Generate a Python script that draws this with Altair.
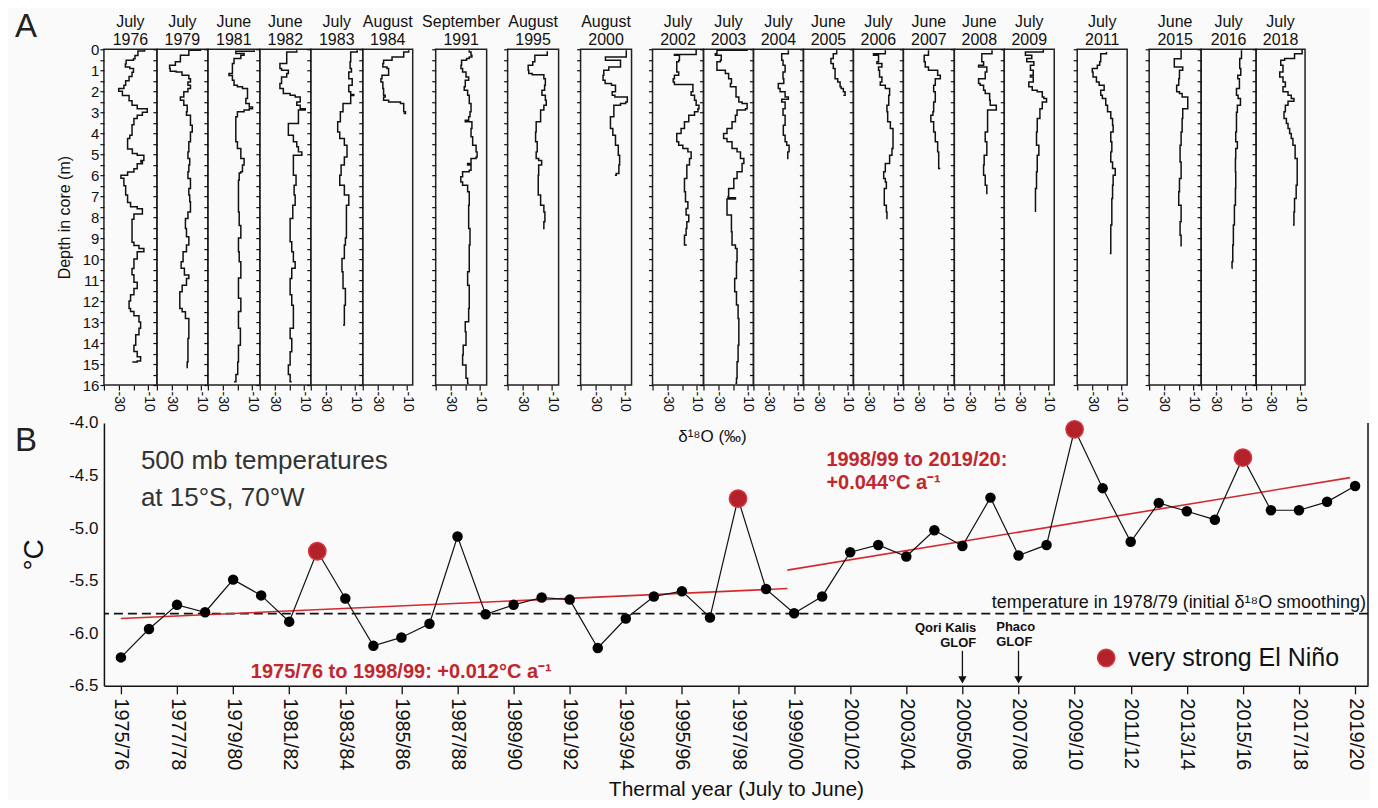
import altair as alt
import pandas as pd

FONT = "Liberation Sans"

# ---------------- Panel A : ice-core d18O profiles ----------------
core_titles = [["July", "1976"], ["July", "1979"], ["June", "1981"], ["June", "1982"],
               ["July", "1983"], ["August", "1984"], ["September", "1991"], ["August", "1995"],
               ["August", "2000"], ["July", "2002"], ["July", "2003"], ["July", "2004"],
               ["June", "2005"], ["July", "2006"], ["June", "2007"], ["June", "2008"],
               ["July", "2009"], ["July", "2011"], ["June", "2015"], ["July", "2016"],
               ["July", "2018"]]

depth_ticks = [i * 0.5 for i in range(33)]
d18o_ticks = [-40, -30, -20, -10]

core_1976 = [(0.0, -12.5), (0.08, -17.0), (0.3, -19.0), (0.45, -20.0), (0.52, -25.0), (0.7, -25.5),
             (0.85, -22.5), (0.92, -20.0), (1.1, -21.0), (1.3, -23.0), (1.5, -25.3), (1.72, -26.5),
             (1.87, -30.0), (2.0, -27.5), (2.2, -23.0), (2.45, -21.0), (2.67, -17.5), (2.83, -10.7),
             (3.0, -14.0), (3.15, -17.5), (3.3, -19.7), (3.6, -21.0), (4.1, -22.5), (4.25, -24.0),
             (4.6, -24.0), (4.75, -20.8), (4.97, -17.5), (5.05, -13.0), (5.3, -15.0), (5.37, -14.0),
             (5.45, -17.5), (5.7, -19.7), (5.85, -24.0), (6.0, -28.5), (6.15, -26.5), (6.5, -25.3),
             (6.95, -24.0), (7.3, -22.0), (7.5, -17.5), (7.6, -14.0), (7.85, -19.7), (8.1, -21.0),
             (8.7, -21.0), (9.2, -19.7), (9.35, -16.3), (9.5, -13.0), (9.65, -17.5), (10.0, -19.7),
             (10.45, -21.0), (10.75, -19.7), (11.1, -17.5), (11.4, -19.7), (11.7, -22.0), (12.0, -23.0),
             (12.35, -22.0), (12.5, -19.7), (12.7, -16.3), (13.0, -15.2), (13.3, -16.3), (13.6, -18.5),
             (14.1, -19.7), (14.4, -17.5), (14.65, -15.2), (14.85, -17.5), (14.9, -20.8)]
core_1979 = [(0.0, -10.5), (0.05, -18.4), (0.29, -24.1), (0.6, -27.5), (0.76, -31.4), (0.92, -31.0),
             (1.05, -27.0), (1.08, -23.0), (1.24, -18.4), (1.4, -17.3), (1.56, -19.0), (1.71, -17.3),
             (1.87, -19.0), (2.03, -21.8), (2.27, -24.1), (2.43, -21.8), (2.67, -19.5), (2.98, -20.0),
             (3.14, -17.3), (3.62, -16.1), (3.94, -17.3), (4.41, -18.4), (4.89, -19.0), (5.21, -17.8),
             (5.52, -18.4), (5.84, -19.0), (6.16, -17.3), (6.63, -18.4), (6.95, -17.8), (7.27, -17.3),
             (7.75, -19.0), (8.06, -20.7), (8.54, -20.0), (8.94, -18.4), (9.33, -20.0), (9.65, -22.3),
             (10.13, -23.6), (10.44, -21.4), (10.76, -18.4), (10.92, -20.0), (11.24, -22.9), (11.56, -24.5),
             (12.03, -24.5), (12.35, -22.9), (12.51, -20.7), (12.83, -18.4), (13.3, -18.4), (13.78, -19.0),
             (14.25, -19.0), (14.9, -19.5), (15.2, -19.5)]
core_1981 = [(0.05, -8.6), (0.1, -21.1), (0.2, -15.5), (0.29, -17.7), (0.44, -22.3), (0.68, -23.4),
             (1.0, -23.4), (1.16, -25.7), (1.25, -23.4), (1.48, -22.3), (1.71, -20.0), (1.79, -16.6),
             (1.87, -13.2), (2.19, -13.2), (2.35, -14.3), (2.59, -12.0), (2.75, -9.8), (2.83, -12.0),
             (2.9, -15.5), (2.98, -20.0), (3.22, -21.1), (3.94, -21.1), (4.41, -20.0), (4.73, -17.7),
             (5.21, -15.5), (5.52, -16.6), (5.84, -17.7), (5.9, -18.8), (6.24, -19.3), (7.0, -19.3),
             (7.75, -18.8), (8.4, -17.7), (9.0, -19.3), (9.65, -18.8), (10.13, -17.7), (10.9, -19.3),
             (11.87, -17.7), (12.5, -19.3), (13.3, -18.0), (14.1, -19.3), (14.9, -19.8), (15.5, -21.0),
             (15.85, -22.3)]
core_1982 = [(0.05, -15.0), (0.13, -21.8), (0.44, -21.8), (0.68, -26.4), (0.92, -25.3), (1.0, -20.7),
             (1.16, -21.8), (1.32, -25.3), (1.63, -26.4), (1.87, -24.1), (2.11, -19.5), (2.19, -16.1),
             (2.27, -12.7), (2.51, -15.0), (2.67, -12.7), (2.83, -9.3), (2.9, -13.9), (3.46, -13.9),
             (3.54, -20.7), (3.94, -20.7), (4.1, -17.3), (4.41, -15.0), (4.65, -13.9), (4.89, -11.6),
             (5.05, -17.3), (5.52, -17.3), (6.0, -15.5), (6.48, -16.8), (6.95, -16.1), (7.43, -17.7),
             (8.06, -19.5), (8.7, -19.5), (9.17, -18.4), (9.65, -17.3), (10.13, -16.1), (10.44, -18.4),
             (10.92, -19.5), (11.7, -18.4), (12.2, -17.3), (12.5, -17.3), (13.3, -19.5), (13.78, -18.4),
             (14.41, -19.5), (15.05, -20.7), (15.5, -19.5), (15.85, -18.4)]
core_1983 = [(0.05, -8.6), (0.13, -13.0), (0.6, -13.4), (0.92, -12.5), (1.08, -14.3), (1.4, -12.0),
             (1.71, -14.3), (2.03, -13.0), (2.16, -10.9), (2.2, -13.0), (2.59, -18.2), (2.98, -20.0),
             (3.46, -21.8), (3.94, -20.4), (4.25, -17.3), (4.57, -15.5), (4.89, -15.5), (5.13, -17.3),
             (5.52, -19.5), (6.0, -20.4), (6.48, -17.3), (6.95, -14.3), (7.43, -15.9), (8.22, -15.9),
             (9.0, -16.6), (9.33, -17.3), (9.97, -18.9), (10.6, -18.2), (11.4, -16.6), (12.2, -17.3),
             (13.14, -18.2)]
core_1984 = [(0.05, -8.9), (0.13, -12.3), (0.37, -20.2), (0.52, -25.9), (0.68, -26.4), (0.84, -23.6),
             (0.92, -22.5), (1.24, -27.0), (1.4, -27.7), (1.56, -26.4), (1.87, -25.9), (2.19, -24.8),
             (2.27, -25.9), (2.43, -22.5), (2.51, -14.5), (2.59, -12.3), (2.83, -12.3), (2.98, -11.1),
             (3.06, -12.3)]
core_1991 = [(0.05, -17.3), (0.13, -16.1), (0.29, -15.5), (0.37, -17.3), (0.44, -19.1), (0.52, -22.5),
             (0.76, -22.9), (0.92, -21.8), (1.08, -19.5), (1.32, -17.7), (1.48, -20.0), (1.79, -20.7),
             (1.95, -18.4), (2.19, -17.3), (2.59, -16.1), (2.98, -16.8), (3.22, -17.7), (3.38, -20.0),
             (3.46, -15.5), (3.78, -16.1), (4.17, -15.0), (4.57, -12.7), (4.89, -12.0), (5.13, -12.7),
             (5.21, -16.1), (5.44, -18.4), (5.52, -16.1), (5.76, -17.3), (5.84, -21.8), (6.08, -23.0),
             (6.32, -21.8), (6.48, -18.4), (6.79, -17.3), (7.43, -17.7), (8.54, -16.8), (9.33, -17.3),
             (10.6, -18.4), (11.24, -17.3), (12.35, -17.7), (12.98, -20.0), (13.46, -19.5), (14.1, -21.4),
             (14.57, -21.8), (15.05, -19.5), (15.68, -18.4), (15.92, -17.7)]
core_1995 = [(0.1, -13.2), (0.29, -21.6), (0.6, -23.0), (0.76, -26.1), (1.0, -25.7), (1.16, -23.4),
             (1.21, -15.5), (1.4, -14.5), (1.71, -15.0), (1.95, -16.8), (2.19, -14.5), (2.43, -13.9),
             (2.67, -15.5), (2.9, -17.7), (3.22, -17.7), (3.46, -20.7), (3.94, -21.1), (4.41, -20.0),
             (4.89, -20.7), (5.21, -19.0), (5.3, -17.0), (5.52, -19.0), (6.0, -19.3), (6.48, -19.3),
             (6.95, -17.7), (7.43, -15.5), (7.75, -14.8), (8.22, -15.5), (8.54, -16.1)]
core_2000 = [(0.05, -9.1), (0.37, -23.2), (0.52, -13.0), (0.76, -13.0), (0.84, -20.9), (1.0, -24.3),
             (1.24, -24.8), (1.48, -23.4), (1.63, -19.1), (1.71, -16.4), (1.95, -16.4), (2.03, -18.6),
             (2.19, -16.8), (2.27, -8.4), (2.51, -9.5), (2.59, -13.0), (2.67, -17.5), (3.06, -17.5),
             (3.22, -19.8), (3.46, -19.8), (3.78, -18.2), (4.1, -16.4), (4.57, -14.5), (5.05, -13.6),
             (5.52, -14.1), (5.92, -15.9), (6.0, -16.8)]
core_2002 = [(0.0, -10.5), (0.21, -10.5), (0.25, -25.2), (0.29, -21.8), (0.52, -22.3), (0.6, -23.6),
             (1.0, -23.6), (1.08, -22.3), (1.24, -25.2), (1.4, -26.0), (1.56, -25.2), (1.68, -12.7),
             (2.03, -13.9), (2.19, -11.6), (2.43, -10.5), (2.67, -8.6), (2.83, -9.3), (2.98, -11.6),
             (3.14, -15.5), (3.46, -18.4), (3.78, -20.7), (4.02, -23.6), (4.41, -22.3), (4.57, -19.5),
             (4.73, -16.1), (4.89, -13.9), (5.21, -15.0), (5.52, -16.8), (6.16, -18.4), (6.79, -17.7),
             (7.27, -16.1), (7.59, -17.3), (7.9, -15.5), (8.22, -16.8), (8.54, -17.3), (8.86, -18.4),
             (9.33, -16.8)]
core_2003 = [(0.0, -10.5), (0.05, -30.9), (0.21, -32.0), (0.29, -28.0), (0.52, -28.6), (0.6, -30.9),
             (0.92, -30.9), (1.0, -25.2), (1.16, -23.0), (1.4, -21.1), (1.63, -21.8), (1.79, -18.0),
             (2.11, -18.0), (2.27, -16.1), (2.51, -13.9), (2.59, -10.5), (2.83, -11.6), (2.9, -17.3),
             (3.14, -18.4), (3.46, -20.7), (3.78, -24.1), (4.02, -26.4), (4.25, -24.1), (4.41, -20.7),
             (4.73, -17.3), (4.89, -15.0), (5.21, -12.7), (5.44, -13.9), (5.84, -17.3), (6.16, -19.5),
             (6.63, -23.0), (7.03, -23.4), (7.08, -18.4), (7.14, -24.1), (7.59, -24.1), (7.9, -21.1),
             (8.7, -20.7), (9.33, -18.4), (9.49, -17.3), (10.13, -17.7), (10.92, -18.9), (11.56, -17.7),
             (12.19, -16.6), (12.83, -16.1), (14.1, -16.6), (14.89, -17.3), (15.68, -17.7), (15.92, -18.4)]
core_2004 = [(0.05, -16.4), (0.21, -20.9), (0.52, -20.0), (0.76, -18.6), (1.08, -20.0), (1.4, -19.5),
             (1.63, -23.2), (1.87, -22.0), (2.03, -18.6), (2.27, -16.4), (2.38, -20.9), (2.51, -18.6),
             (2.83, -20.0), (3.14, -18.6), (3.62, -19.8), (4.1, -18.6), (4.41, -17.5), (4.57, -15.9),
             (4.89, -16.8), (5.2, -17.3)]
core_2005 = [(0.05, -17.5), (0.21, -19.8), (0.44, -21.4), (0.68, -19.8), (0.92, -18.6), (1.24, -18.6),
             (1.4, -16.8), (1.56, -15.2), (1.79, -14.5), (1.87, -13.0), (2.03, -11.8), (2.19, -13.0)]
core_2006 = [(0.05, -18.4), (0.21, -26.4), (0.29, -23.0), (0.6, -24.1), (0.68, -20.7), (0.84, -23.0),
             (1.0, -22.3), (1.32, -20.7), (1.56, -21.8), (1.71, -18.4), (1.87, -15.5), (2.19, -16.1),
             (2.67, -17.3), (2.98, -16.8), (3.46, -15.0), (3.78, -13.2), (4.25, -13.2), (4.73, -13.9),
             (5.05, -15.5), (5.44, -18.4), (5.84, -19.5), (6.16, -18.4), (6.32, -17.7), (6.63, -19.1),
             (7.11, -19.1), (7.43, -17.7), (7.75, -17.3), (8.06, -16.8)]
core_2007 = [(0.05, -23.0), (0.29, -25.9), (0.6, -25.2), (0.84, -23.0), (1.0, -16.8), (1.24, -15.0),
             (1.4, -18.4), (1.71, -19.5), (2.03, -18.4), (2.51, -19.5), (2.98, -20.0), (3.14, -21.4),
             (3.46, -19.5), (3.94, -18.4), (4.41, -16.8), (4.89, -16.1), (5.37, -16.1), (5.68, -15.0)]
core_2008 = [(0.05, -14.5), (0.21, -21.4), (0.6, -20.2), (0.76, -23.6), (0.84, -18.0), (1.08, -19.1),
             (1.4, -23.6), (1.63, -22.5), (1.71, -20.2), (1.95, -19.1), (2.11, -16.1), (2.43, -15.7),
             (2.67, -11.6), (2.83, -11.6), (2.9, -17.5), (3.46, -17.5), (3.94, -19.1), (4.41, -18.0),
             (5.05, -19.8), (5.52, -20.2), (6.0, -19.1), (6.48, -18.0), (6.87, -17.5)]
core_2009 = [(0.0, -13.6), (0.13, -25.7), (0.29, -21.4), (0.44, -24.8), (0.6, -20.0), (0.76, -22.3),
             (1.0, -20.4), (1.24, -22.3), (1.32, -20.4), (1.56, -23.4), (1.79, -21.1), (1.95, -17.7),
             (2.03, -14.3), (2.27, -13.2), (2.35, -11.4), (2.51, -14.3), (2.83, -15.9), (3.3, -17.7),
             (3.94, -18.2), (4.57, -16.6), (5.05, -17.7), (5.84, -18.2), (6.63, -18.9), (7.27, -18.9),
             (7.75, -18.9)]
core_2011 = [(0.13, -20.2), (0.21, -24.1), (0.6, -24.8), (0.76, -26.4), (0.92, -29.8), (1.08, -29.3),
             (1.32, -27.0), (1.56, -25.2), (1.71, -21.8), (1.95, -24.1), (2.19, -23.0), (2.35, -20.7),
             (2.67, -19.5), (2.98, -17.3), (3.3, -16.1), (3.62, -15.7), (3.94, -17.3), (4.41, -16.6),
             (4.89, -17.3), (5.37, -16.1), (5.68, -14.3), (6.0, -15.7), (6.48, -16.1), (7.11, -16.6),
             (7.75, -16.6), (8.38, -17.3), (9.0, -17.3), (9.73, -18.0)]
core_2015 = [(0.0, -18.4), (0.45, -23.0), (0.85, -17.3), (1.0, -19.5), (1.4, -20.0), (1.71, -21.4),
             (2.03, -19.5), (2.11, -17.7), (2.27, -13.9), (2.75, -13.9), (2.83, -17.3), (3.3, -17.7),
             (3.94, -18.4), (4.57, -19.1), (5.37, -18.4), (6.16, -19.5), (6.79, -20.0), (7.43, -18.4),
             (8.22, -19.1), (8.86, -18.4), (9.4, -18.4)]
core_2016 = [(0.05, -12.7), (0.44, -13.9), (0.92, -13.2), (1.24, -15.2), (1.4, -14.1), (1.87, -16.1),
             (2.19, -15.0), (2.35, -13.4), (2.67, -15.5), (3.0, -16.1), (3.46, -16.1), (3.94, -16.6),
             (4.41, -15.5), (4.73, -16.6), (5.21, -16.8), (5.84, -16.6), (6.63, -16.8), (7.43, -17.5),
             (8.38, -18.2), (9.33, -18.6), (10.13, -19.1), (10.44, -19.3)]
core_2018 = [(0.0, -8.9), (0.21, -14.0), (0.44, -20.7), (0.52, -23.3), (0.76, -21.8), (1.08, -24.0),
             (1.32, -21.8), (1.56, -20.2), (1.79, -21.8), (2.03, -18.4), (2.19, -16.2), (2.35, -14.4),
             (2.48, -18.4), (2.67, -20.2), (2.98, -21.1), (3.3, -19.5), (3.54, -18.4), (3.78, -17.3),
             (4.02, -16.2), (4.25, -15.1), (4.57, -13.6), (5.21, -12.2), (5.84, -12.2), (6.48, -12.9),
             (7.11, -14.0), (7.75, -14.4), (8.38, -15.1)]

cores = [core_1976, core_1979, core_1981, core_1982, core_1983, core_1984, core_1991,
         core_1995, core_2000, core_2002, core_2003, core_2004, core_2005, core_2006,
         core_2007, core_2008, core_2009, core_2011, core_2015, core_2016, core_2018]

# ---------------- Panel B : 500 mb temperatures ----------------
seasons = ["1975/76", "1976/77", "1977/78", "1978/79", "1979/80", "1980/81", "1981/82", "1982/83",
           "1983/84", "1984/85", "1985/86", "1986/87", "1987/88", "1988/89", "1989/90", "1990/91",
           "1991/92", "1992/93", "1993/94", "1994/95", "1995/96", "1996/97", "1997/98", "1998/99",
           "1999/00", "2000/01", "2001/02", "2002/03", "2003/04", "2004/05", "2005/06", "2006/07",
           "2007/08", "2008/09", "2009/10", "2010/11", "2011/12", "2012/13", "2013/14", "2014/15",
           "2015/16", "2016/17", "2017/18", "2018/19", "2019/20"]
temps = [-6.23, -5.96, -5.73, -5.80, -5.49, -5.64, -5.89, -5.22, -5.67, -6.12, -6.04, -5.91,
         -5.08, -5.82, -5.73, -5.66, -5.68, -6.14, -5.86, -5.65, -5.60, -5.85, -4.72, -5.58,
         -5.81, -5.65, -5.23, -5.16, -5.27, -5.02, -5.17, -4.71, -5.26, -5.16, -4.06, -4.62,
         -5.13, -4.76, -4.84, -4.92, -4.33, -4.83, -4.83, -4.75, -4.60]
el_nino_seasons = ["1982/83", "1997/98", "2009/10", "2015/16"]
ref_temp_1978 = [-5.813]
trend_early_year = [1975.0, 1998.76]
trend_early_temp = [-5.86, -5.575]
trend_late_year = [1998.76, 2018.82]
trend_late_temp = [-5.40, -4.52]
glof_years = [2005, 2007]
glof_labels = [["Qori Kalis", "GLOF"], ["Phaco", "GLOF"]]
y_tick_values = [-6.5, -6.0, -5.5, -5.0, -4.5, -4.0]

INK = "#111111"
RED = "#c1272d"

PANEL_H = 336


def core_panel(k, width):
    df = pd.DataFrame(cores[k], columns=["depth", "d18o"])
    first = k == 0
    y_kw = dict(values=depth_ticks, tickSize=4, tickWidth=1.2, tickColor=INK, domain=False,
                grid=False, title=None)
    if first:
        y_kw.update(labels=True, labelExpr="datum.value % 1 == 0 ? toString(datum.value) : ''",
                    labelFontSize=15, labelColor=INK, labelPadding=1,
                    title="Depth in core (m)", titleFontSize=16, titleFontWeight="normal",
                    titleColor=INK, titlePadding=10)
    else:
        y_kw.update(labels=False)
    x_ax = alt.Axis(values=d18o_ticks,
                    labelExpr="(datum.value == -30 || datum.value == -10) ? toString(datum.value) : ''",
                    labelAngle=90, labelFontSize=14, labelColor=INK, labelPadding=1,
                    labelOverlap=False, tickSize=5, tickWidth=1.2, tickColor=INK,
                    domain=False, grid=False, title=None)
    line = alt.Chart(df).mark_line(interpolate="step-before", color=INK, strokeWidth=1.5).encode(
        x=alt.X("d18o:Q", scale=alt.Scale(domain=[-40, -40 + width / 1.48], nice=False, zero=False),
                axis=x_ax),
        y=alt.Y("depth:Q", scale=alt.Scale(domain=[0, 16], reverse=True, nice=False, zero=False),
                axis=alt.Axis(**y_kw)),
        order=alt.Order("depth:Q"),
    )
    one = pd.DataFrame({"n": [0]})
    ttl = alt.Chart(one).mark_text(text=core_titles[k], fontSize=16, lineHeight=18,
                                    baseline="alphabetic", align="center", color=INK).encode(
        x=alt.value(width / 2), y=alt.value(-22))
    layers = [line, ttl]
    if first:
        layers.append(alt.Chart(one).mark_text(text="A", fontSize=33, color="#222",
                                               baseline="top", align="center").encode(
            x=alt.value(-78), y=alt.value(-38)))
    return alt.layer(*layers).properties(
        width=width, height=PANEL_H, view=alt.ViewBackground(stroke="#222222", strokeWidth=1.5))


def spacer(width):
    return alt.Chart(pd.DataFrame({"n": [0]})).mark_point(opacity=0).encode(
        x=alt.value(0), y=alt.value(0)).properties(
        width=width, height=PANEL_H, view=alt.ViewBackground(stroke="transparent"))


layout = [("c", 0, 53), ("c", 1, 51), ("c", 2, 52), ("c", 3, 51), ("c", 4, 52), ("c", 5, 50),
          ("g", 23), ("c", 6, 51), ("g", 21), ("c", 7, 51), ("g", 22), ("c", 8, 51), ("g", 21),
          ("c", 9, 51), ("c", 10, 50), ("c", 11, 50), ("c", 12, 50), ("c", 13, 50), ("c", 14, 51),
          ("c", 15, 50), ("c", 16, 50), ("g", 23), ("c", 17, 50), ("g", 22), ("c", 18, 52),
          ("c", 19, 55), ("c", 20, 49)]

items = []
for entry in layout:
    if entry[0] == "c":
        items.append(core_panel(entry[1], entry[2]))
    else:
        items.append(spacer(entry[1]))

panel_a = alt.HConcatChart(hconcat=items, spacing=0, bounds="flush")

# ---------------- Panel B chart ----------------
B_W, B_H = 1265, 263
df_t = pd.DataFrame({"season": seasons, "temp": temps})
df_t["year"] = df_t["season"].str[:4].astype(int)
df_t["nino"] = df_t["season"].isin(el_nino_seasons)

xs = alt.Scale(domain=[1974.394, 2019.46], nice=False, zero=False)
ys = alt.Scale(domain=[-6.5, -4.0], nice=False, zero=False)

x_axis = alt.Axis(values=df_t["year"].tolist(),
                  labelExpr="datum.value % 2 == 1 ? toString(datum.value) + '/' + slice(toString(datum.value + 1), 2) : ''",
                  labelAngle=90, labelFontSize=20, labelPadding=4, labelColor=INK,
                  labelOverlap=False, labelBound=False,
                  tickSize=8, tickWidth=1.3, tickColor=INK, domainColor=INK, domainWidth=1.5,
                  grid=False, title="Thermal year (July to June)", titleFontSize=21,
                  titleFontWeight="normal", titlePadding=8, titleColor=INK)
y_axis = alt.Axis(values=y_tick_values,
                  labelExpr="replace(format(datum.value, '.1f'), '\u2212', '-')",
                  ticks=False, labelPadding=6, labelFontSize=17, labelColor=INK,
                  domainColor=INK, domainWidth=1.5, grid=False, title="°C", titleFontSize=28,
                  titleFontWeight="normal", titlePadding=20, titleColor=INK)

base_b = alt.Chart(df_t).encode(x=alt.X("year:Q", scale=xs, axis=x_axis),
                                y=alt.Y("temp:Q", scale=ys, axis=y_axis))

ref_line = alt.Chart(pd.DataFrame({"temp": ref_temp_1978})).mark_rule(
    color=INK, strokeWidth=1.8, strokeDash=[9, 5]).encode(y=alt.Y("temp:Q", scale=ys))

df_trend = pd.DataFrame({
    "year": trend_early_year + trend_late_year,
    "temp": trend_early_temp + trend_late_temp,
    "seg": ["early", "early", "late", "late"],
})
trend = alt.Chart(df_trend).mark_line(color="#d42a2f", strokeWidth=1.6).encode(
    x=alt.X("year:Q", scale=xs), y=alt.Y("temp:Q", scale=ys), detail="seg:N")

series_line = base_b.mark_line(color=INK, strokeWidth=1.2)
dots = base_b.transform_filter("!datum.nino").mark_circle(size=110, color="#000000", opacity=1)
nino_dots = base_b.transform_filter("datum.nino").mark_point(
    filled=True, size=300, fill="#b3222b", stroke="#d5353c", strokeWidth=1.5, opacity=1)

one = pd.DataFrame({"n": [0]})


def label(text, x, y, size, color=INK, weight="normal", align="left"):
    return alt.Chart(one).mark_text(text=text, fontSize=size, color=color, fontWeight=weight,
                                    align=align, baseline="middle").encode(
        x=alt.value(x), y=alt.value(y))


texts = [
    label("500 mb temperatures", 37, 38, 26, color="#333333"),
    label("at 15°S, 70°W", 37, 75, 26, color="#333333"),
    label("1975/76 to 1998/99: +0.012°C a⁻¹", 147, 249, 20, color=RED, weight="bold"),
    label("1998/99 to 2019/20:", 723, 37, 20, color=RED, weight="bold"),
    label("+0.044°C a⁻¹", 723, 60, 20, color=RED, weight="bold"),
    label("temperature in 1978/79 (initial δ¹⁸O smoothing)", 1263, 180, 18, align="right"),
    label("δ¹⁸O (‰)", 609, 14, 17, align="center"),
    label(glof_labels[0][0], 873, 205, 13, weight="bold", align="right"),
    label(glof_labels[0][1], 873, 220, 13, weight="bold", align="right"),
    label(glof_labels[1][0], 893, 204, 13, weight="bold"),
    label(glof_labels[1][1], 893, 219, 13, weight="bold"),
    label("very strong El Niño", 1025, 235, 25),
    label("B", -78, 18, 33, color="#222222", align="center"),
]

legend_dot = alt.Chart(one).mark_point(filled=True, size=300, fill="#b3222b", stroke="#d5353c",
                                       strokeWidth=1.5, opacity=1).encode(
    x=alt.value(1003), y=alt.value(235))

df_glof = pd.DataFrame({"year": glof_years})
glof_rule = alt.Chart(df_glof).mark_rule(color=INK, strokeWidth=1.3).encode(
    x=alt.X("year:Q", scale=xs), y=alt.value(228), y2=alt.value(256))
glof_head = alt.Chart(df_glof).mark_point(shape="triangle-down", filled=True, size=70,
                                          color=INK, opacity=1).encode(
    x=alt.X("year:Q", scale=xs), y=alt.value(257))

right_frame = alt.Chart(one).mark_rule(color=INK, strokeWidth=1.5).encode(
    x=alt.value(B_W), y=alt.value(0), y2=alt.value(B_H))

panel_b = alt.layer(ref_line, trend, series_line, dots, nino_dots, glof_rule, glof_head,
                    right_frame, legend_dot, *texts).properties(
    width=B_W, height=B_H, view=alt.ViewBackground(stroke="transparent"))

chart = alt.VConcatChart(
    vconcat=[panel_a, panel_b],
    spacing=1,
    padding={"left": 6, "top": 2, "right": 0, "bottom": 0},
    background="#fafafa",
).configure(font=FONT)

chart.save("out.html", embed_options={"renderer": "svg", "actions": False})
